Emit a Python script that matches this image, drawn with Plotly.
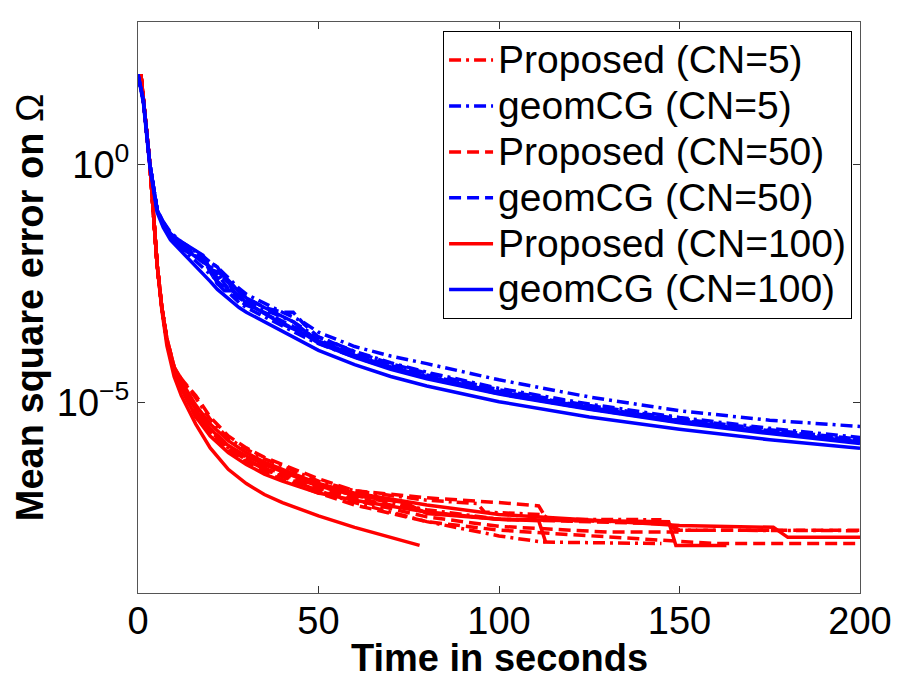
import plotly.graph_objects as go

# ---- data (y stored as log10 of the mean square error) ----
BLUE_T = [0, 1.5, 3.3, 5.3, 7, 9, 12, 15, 18, 20, 22, 24, 26, 28, 30, 35, 40, 43, 46, 50,
          60, 70, 80, 100, 125, 150, 175, 200]

geom5_a = [1.9, 1.35, 0.0, -0.95, -1.2, -1.42, -1.62, -1.78, -1.92, -2.05, -2.15, -2.3, -2.45, -2.6,
           -2.72, -2.92, -3.1, -3.2, -3.32, -3.52, -3.82, -4.02, -4.18, -4.52, -4.88, -5.17, -5.37, -5.5]
geom5_b = [1.9, 1.35, 0.0, -0.95, -1.25, -1.5, -1.7, -1.85, -2.0, -2.1, -2.4, -2.3, -2.6, -2.8,
           -2.85, -3.05, -3.2, -3.3, -3.45, -3.62, -3.92, -4.16, -4.36, -4.7, -5.03, -5.31, -5.54, -5.73]
geom5_c = [1.9, 1.35, 0.0, -0.95, -1.25, -1.5, -1.75, -1.95, -2.15, -2.3, -2.45, -2.6, -2.75, -2.9,
           -3.0, -3.2, -3.4, -3.5, -3.62, -3.76, -4.04, -4.28, -4.48, -4.81, -5.13, -5.41, -5.63, -5.84]
geom50_a = [1.9, 1.35, 0.0, -0.95, -1.2, -1.45, -1.66, -1.82, -1.95, -2.05, -2.15, -2.4, -2.55, -2.65,
            -2.8, -3.0, -3.1, -3.1, -3.35, -3.62, -3.93, -4.18, -4.38, -4.73, -5.06, -5.34, -5.57, -5.77]
geom50_b = [1.9, 1.35, 0.0, -0.95, -1.25, -1.5, -1.75, -1.9, -1.95, -2.25, -2.5, -2.55, -2.6, -2.85,
            -2.95, -3.1, -3.3, -3.4, -3.5, -3.68, -3.98, -4.22, -4.42, -4.76, -5.09, -5.37, -5.59, -5.79]
geom50_c = [1.9, 1.35, 0.0, -0.95, -1.25, -1.5, -1.7, -1.88, -2.05, -2.2, -2.3, -2.5, -2.7, -2.8,
            -2.9, -3.12, -3.32, -3.42, -3.55, -3.72, -4.02, -4.27, -4.47, -4.8, -5.12, -5.4, -5.62, -5.83]
geom100_a = [1.9, 1.3, -0.05, -1.0, -1.32, -1.58, -1.82, -2.05, -2.28, -2.45, -2.62, -2.75, -2.88, -3.0,
             -3.1, -3.3, -3.5, -3.6, -3.72, -3.9, -4.2, -4.45, -4.65, -4.98, -5.3, -5.56, -5.78, -5.96]
geom100_b = [1.9, 1.35, 0.0, -0.95, -1.25, -1.5, -1.72, -1.88, -2.05, -2.15, -2.5, -2.65, -2.65, -2.75,
             -2.9, -3.12, -3.35, -3.45, -3.55, -3.75, -4.05, -4.3, -4.5, -4.82, -5.14, -5.42, -5.65, -5.86]
geom100_c = [1.9, 1.35, 0.0, -0.95, -1.22, -1.45, -1.62, -1.76, -1.9, -2.2, -2.25, -2.35, -2.5, -2.68,
             -2.8, -3.0, -3.18, -3.3, -3.48, -3.7, -4.0, -4.25, -4.45, -4.78, -5.1, -5.38, -5.62, -5.82]

RED_T0 = [0.8, 3.3, 5.3, 6.6, 8, 10, 12, 16, 20, 25, 30, 35, 40, 50]

prop5_a_t = RED_T0 + [60, 80, 94, 96, 112, 114, 145]
prop5_a = [1.9, 0.0, -2.1, -3.0, -3.65, -4.25, -4.5, -4.9, -5.35, -5.75, -5.98, -6.18, -6.33, -6.65,
           -6.85, -7.05, -7.12, -7.3, -7.35, -7.45, -7.46]
prop5_b_t = RED_T0 + [60, 80, 100, 112, 145]
prop5_b = [1.9, 0.0, -2.1, -3.0, -3.7, -4.3, -4.65, -5.25, -5.6, -5.95, -6.2, -6.4, -6.55, -6.85,
           -7.1, -7.5, -7.8, -7.93, -7.96]
prop5_c_t = RED_T0 + [60, 80, 100, 147, 149, 200]
prop5_c = [1.9, 0.0, -2.1, -3.0, -3.7, -4.3, -4.6, -5.15, -5.55, -5.9, -6.15, -6.35, -6.5, -6.75,
           -6.95, -7.25, -7.45, -7.52, -7.68, -7.69]

prop50_a_t = RED_T0 + [60, 80, 100, 111, 113]
prop50_a = [1.9, 0.0, -2.1, -3.0, -3.65, -4.25, -4.5, -4.85, -5.3, -5.7, -5.95, -6.15, -6.3, -6.6,
            -6.85, -7.0, -7.1, -7.17, -7.42]
prop50_b_t = RED_T0 + [60, 80, 100, 130, 150]
prop50_b = [1.9, 0.0, -2.1, -3.0, -3.7, -4.3, -4.65, -5.2, -5.6, -5.95, -6.2, -6.4, -6.55, -6.85,
            -7.05, -7.4, -7.6, -7.72, -7.72]
prop50_c_t = RED_T0 + [60, 80, 100, 150, 160, 200]
prop50_c = [1.9, 0.0, -2.1, -3.0, -3.7, -4.35, -4.7, -5.3, -5.65, -6.0, -6.25, -6.45, -6.62, -6.9,
            -7.15, -7.5, -7.68, -7.9, -7.96, -7.96]
prop50_d_t = RED_T0 + [60, 80, 100, 147, 150, 200]
prop50_d = [1.9, 0.0, -2.1, -3.0, -3.7, -4.3, -4.6, -5.2, -5.55, -5.92, -6.18, -6.38, -6.52, -6.8,
            -7.0, -7.3, -7.45, -7.55, -7.68, -7.68]

prop100_a_t = RED_T0 + [60, 70, 78]
prop100_a = [1.9, 0.0, -2.1, -3.05, -3.8, -4.45, -4.85, -5.45, -5.95, -6.4, -6.7, -6.93, -7.1, -7.38,
             -7.62, -7.83, -8.0]
prop100_b_t = RED_T0 + [60, 74, 80, 100, 147, 149, 163]
prop100_b = [1.9, 0.0, -2.1, -3.0, -3.7, -4.3, -4.6, -5.15, -5.55, -5.9, -6.12, -6.3, -6.45, -6.75,
             -6.95, -7.1, -7.33, -7.45, -7.5, -8.0, -8.0]
prop100_c_t = RED_T0 + [60, 80, 100, 150, 176, 180, 200]
prop100_c = [1.9, 0.0, -2.1, -3.0, -3.65, -4.25, -4.55, -5.05, -5.45, -5.8, -6.05, -6.25, -6.4, -6.7,
             -6.9, -7.15, -7.35, -7.58, -7.62, -7.83, -7.83]
prop100_d_t = RED_T0 + [60, 80, 100, 111, 113]
prop100_d = [1.9, 0.0, -2.1, -3.0, -3.7, -4.35, -4.7, -5.3, -5.7, -6.05, -6.3, -6.5, -6.65, -6.9,
             -7.05, -7.3, -7.45, -7.48, -7.95]

LEGEND = ["Proposed (CN=5)", "geomCG (CN=5)", "Proposed (CN=50)",
          "geomCG (CN=50)", "Proposed (CN=100)", "geomCG (CN=100)"]

RED = "#ff0000"
BLUE = "#0000ff"
DASHDOT = "12px,5px,3px,5px"
DASH = "12px,6px"

groups = [
    (LEGEND[0], RED, DASHDOT, [(prop5_a_t, prop5_a), (prop5_b_t, prop5_b), (prop5_c_t, prop5_c)]),
    (LEGEND[1], BLUE, DASHDOT, [(BLUE_T, geom5_a), (BLUE_T, geom5_b), (BLUE_T, geom5_c)]),
    (LEGEND[2], RED, DASH, [(prop50_a_t, prop50_a), (prop50_b_t, prop50_b),
                            (prop50_c_t, prop50_c), (prop50_d_t, prop50_d)]),
    (LEGEND[3], BLUE, DASH, [(BLUE_T, geom50_a), (BLUE_T, geom50_b), (BLUE_T, geom50_c)]),
    (LEGEND[4], RED, "solid", [(prop100_a_t, prop100_a), (prop100_b_t, prop100_b),
                               (prop100_c_t, prop100_c), (prop100_d_t, prop100_d)]),
    (LEGEND[5], BLUE, "solid", [(BLUE_T, geom100_a), (BLUE_T, geom100_b), (BLUE_T, geom100_c)]),
]

FONT = "Liberation Sans, Arial, sans-serif"

fig = go.Figure()
for name, color, dash, runs in groups:
    for i, (t, logy) in enumerate(runs):
        fig.add_trace(go.Scatter(
            x=t, y=[10 ** v for v in logy], mode="lines",
            # rows are spaced from the legend font size, the text itself is drawn larger
            name=f'<span style="font-size:39px">{name}</span>',
            legendgroup=name, showlegend=(i == 0),
            line=dict(color=color, width=3.5, dash=dash),
        ))

axis_common = dict(
    ticks="inside", ticklen=7, tickcolor="#333333",
    showline=True, linecolor="#555555", linewidth=1, mirror="allticks",
    showgrid=False, zeroline=False, automargin=False,
    tickfont=dict(size=38),
)

fig.update_layout(
    width=900, height=682,
    paper_bgcolor="white", plot_bgcolor="white",
    margin=dict(l=138, r=40, t=22, b=89),
    font=dict(family=FONT, size=38, color="black"),
    showlegend=True,
    legend=dict(
        x=0.989, y=0.984, xanchor="right", yanchor="top",
        bgcolor="white", bordercolor="black", borderwidth=1,
        font=dict(size=33), tracegroupgap=0, itemwidth=44,
    ),
    xaxis=dict(range=[0, 200], tickvals=[0, 50, 100, 150, 200], ticklabelstandoff=-6,
               **axis_common),
    yaxis=dict(
        type="log", range=[-9, 3],
        tickvals=[1e-5, 1], ticktext=["10<sup>\u22125</sup>", "10<sup>0</sup>"],
        **axis_common,
    ),
    annotations=[
        dict(text="<b>Time in seconds</b>", x=0.5, y=-0.113, xref="paper", yref="paper",
             xanchor="center", yanchor="middle", showarrow=False, font=dict(size=38)),
        dict(text="<b>Mean square error on </b>\u03a9", x=-0.15, y=0.5, xref="paper", yref="paper",
             xanchor="center", yanchor="middle", textangle=-90, showarrow=False,
             font=dict(size=38)),
    ],
)

# the page's default 8px body margin would push the figure off the window
fig.write_html("out.html", config={"displayModeBar": False},
               post_script="document.body.style.margin='0px';")
